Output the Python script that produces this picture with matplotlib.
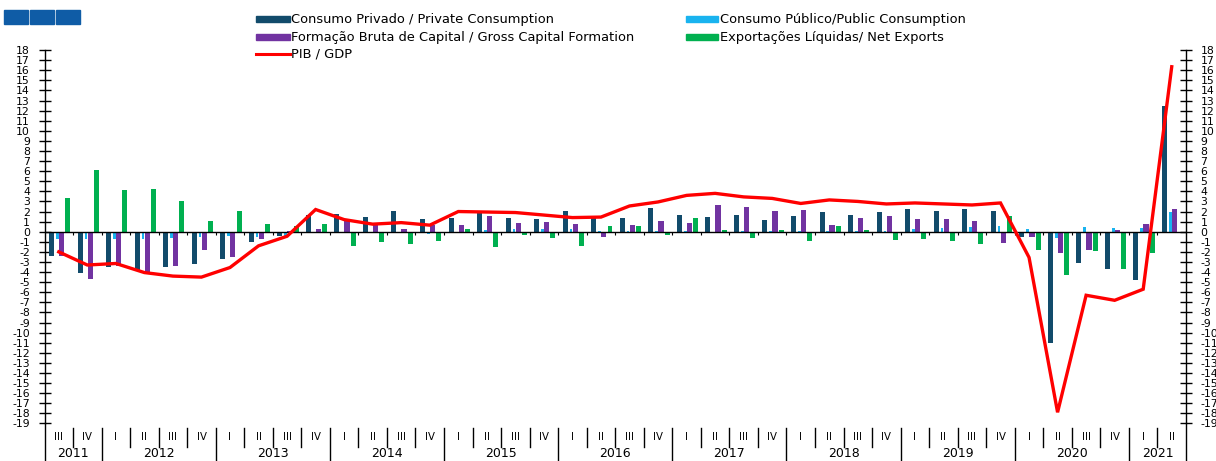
import numpy as np
import matplotlib
matplotlib.use("Agg")
import matplotlib.pyplot as plt
from matplotlib.patches import Rectangle
from matplotlib.lines import Line2D

# ---------------- data ----------------
quarters = ['III', 'IV'] + ['I', 'II', 'III', 'IV'] * 9 + ['I', 'II']
years = ['2011', '2012', '2013', '2014', '2015', '2016', '2017', '2018', '2019', '2020', '2021']
year_nq = [2, 4, 4, 4, 4, 4, 4, 4, 4, 4, 2]

consumo_privado = [
    -2.4, -4.1, -3.5, -3.8, -3.5, -3.2, -2.7, -1.0, -0.45, 1.65,
    1.8, 1.5, 2.05, 1.3, 1.4, 2.0, 1.4, 1.25, 2.05, 1.4,
    1.4, 2.35, 1.7, 1.5, 1.7, 1.15, 1.6, 1.95, 1.7, 2.0,
    2.3, 2.1, 2.3, 2.1, -0.55, -11.0, -3.15, -3.65, -4.8, 12.45]
consumo_publico = [
    -0.7, -0.7, -0.7, -0.75, -0.6, -0.55, -0.45, -0.55, -0.55, -0.1,
    -0.15, -0.1, -0.1, -0.25, -0.1, 0.2, 0.25, 0.3, 0.3, 0.1,
    0.1, 0.1, 0.05, -0.05, 0.1, 0.1, 0.05, 0.1, 0.05, 0.1,
    0.25, 0.35, 0.5, 0.55, 0.25, -0.65, 0.5, 0.4, 0.4, 2.0]
fbc = [
    -2.4, -4.7, -3.4, -4.1, -3.4, -1.8, -2.55, -0.7, 0.05, 0.3,
    1.1, 0.65, 0.3, 0.65, 0.7, 1.55, 0.9, 1.0, 0.75, -0.5,
    0.7, 1.05, 0.9, 2.6, 2.45, 2.05, 2.15, 0.7, 1.4, 1.6,
    1.3, 1.3, 1.1, -1.1, -0.5, -2.1, -1.8, 0.15, 0.8, 2.3]
exportacoes = [
    3.3, 6.1, 4.1, 4.2, 3.0, 1.05, 2.1, 0.73, 0.6, 0.75,
    -1.4, -1.05, -1.2, -0.9, 0.3, -1.5, -0.3, -0.65, -1.4, 0.55,
    0.6, -0.35, 1.4, 0.15, -0.65, 0.2, -0.9, 0.55, 0.15, -0.8,
    -0.75, -0.9, -1.2, 1.55, -1.8, -4.25, -1.9, -3.7, -2.15, -0.15]
pib = [
    -2.0, -3.3, -3.15, -4.05, -4.4, -4.5, -3.55, -1.4, -0.45, 2.2,
    1.2, 0.75, 0.9, 0.65, 2.0, 1.95, 1.9, 1.65, 1.4, 1.45,
    2.55, 2.95, 3.6, 3.8, 3.45, 3.3, 2.8, 3.15, 3.0, 2.75,
    2.85, 2.75, 2.65, 2.85, -2.55, -17.9, -6.3, -6.8, -5.7, 16.35]

legend_labels = ['Consumo Privado / Private Consumption',
                 'Consumo Público/Public Consumption',
                 'Formação Bruta de Capital / Gross Capital Formation',
                 'Exportações Líquidas/ Net Exports',
                 'PIB / GDP']

C_CP = '#124b6b'
C_PUB = '#19b3ef'
C_FBC = '#7133a1'
C_EXP = '#00b050'
C_PIB = '#ff0000'

plt.rcParams['font.family'] = ['DejaVu Sans']

W, H = 1216, 461
fig = plt.figure(figsize=(W / 100, H / 100), dpi=100)


def fx(px):
    return px / W


def fy(py):
    return 1 - py / H


x_left, x_right = 44.5, 1186
y_top, y_bot = 50.1, 423.4
ax = fig.add_axes([fx(x_left), fy(y_bot), fx(x_right) - fx(x_left), fy(y_top) - fy(y_bot)])
n = len(quarters)
x = np.arange(n)
ax.set_xlim(0, n)
ax.set_ylim(-19, 18)

ax.bar(x + 0.245, consumo_privado, width=0.175, color=C_CP, zorder=2)
ax.bar(x + 0.45, consumo_publico, width=0.095, color=C_PUB, zorder=2)
ax.bar(x + 0.60, fbc, width=0.185, color=C_FBC, zorder=2)
ax.bar(x + 0.816, exportacoes, width=0.175, color=C_EXP, zorder=2)
ax.axhline(0, color='black', lw=1.0, zorder=3)
ax.vlines(np.arange(1, n), -0.3, 0, color='black', lw=0.8, zorder=3)
ax.plot(x + 0.5, pib, color=C_PIB, lw=2.4, zorder=4, solid_joinstyle='miter')

for s in ['top', 'bottom']:
    ax.spines[s].set_visible(False)
for s in ['left', 'right']:
    ax.spines[s].set_linewidth(1.0)
ax.set_xticks([])
ax.set_yticks(np.arange(-19, 19, 1))
ax.set_yticklabels([str(v) for v in range(-19, 19)])
ax.tick_params(axis='y', which='both', direction='inout', length=8, width=1,
               left=True, right=True, labelleft=True, labelright=True,
               labelsize=7.8, pad=6.5)
ax.patch.set_alpha(0)

# category axis below
cax = fig.add_axes([fx(x_left), 0, fx(x_right) - fx(x_left), fy(y_bot)])
cax.set_xlim(0, n)
cax.set_ylim(0, 1)
cax.axis('off')
hpx = H - y_bot


def cy(py):
    return (H - py) / hpx


bounds = np.cumsum([0] + year_nq)
for i in range(1, n):
    if i in bounds:
        continue
    cax.plot([i, i], [cy(428), cy(447)], color='black', lw=1.0, clip_on=False)
for b in bounds:
    top = 1.0 if b in (0, n) else cy(428)
    cax.plot([b, b], [top, 0], color='black', lw=1.0, clip_on=False)
for i, q in enumerate(quarters):
    cax.text(i + 0.5, cy(437), q, ha='center', va='center', fontsize=7.3)
for k, yr in enumerate(years):
    c = (bounds[k] + bounds[k + 1]) / 2
    cax.text(c, cy(453), yr, ha='center', va='center', fontsize=9)

# legend (manual)
def patch(x0, x1, ym, h, color):
    fig.patches.append(Rectangle((fx(x0), fy(ym + h / 2)), fx(x1) - fx(x0), h / H,
                                 transform=fig.transFigure, color=color))


rows = [19, 37, 54]
patch(256, 290, rows[0], 6, C_CP)
patch(686, 718, rows[0], 6, C_PUB)
patch(256, 290, rows[1], 6, C_FBC)
patch(686, 718, rows[1], 6, C_EXP)
fig.lines.append(Line2D([fx(256), fx(290)], [fy(rows[2]), fy(rows[2])],
                        transform=fig.transFigure, color=C_PIB, lw=2.2))
fs_leg = 9.4
fig.text(fx(291), fy(rows[0]), legend_labels[0], fontsize=fs_leg, va='center', ha='left')
fig.text(fx(720), fy(rows[0]), legend_labels[1], fontsize=fs_leg, va='center', ha='left')
fig.text(fx(291), fy(rows[1]), legend_labels[2], fontsize=fs_leg, va='center', ha='left')
fig.text(fx(720), fy(rows[1]), legend_labels[3], fontsize=fs_leg, va='center', ha='left')
fig.text(fx(291), fy(rows[2]), legend_labels[4], fontsize=fs_leg, va='center', ha='left')

# top-left blue blocks
for x0 in (4, 30, 56):
    fig.patches.append(Rectangle((fx(x0), fy(24)), 24 / W, 14 / H,
                                 transform=fig.transFigure, color='#0f5ca6'))

fig.savefig('out.png', dpi=100)
